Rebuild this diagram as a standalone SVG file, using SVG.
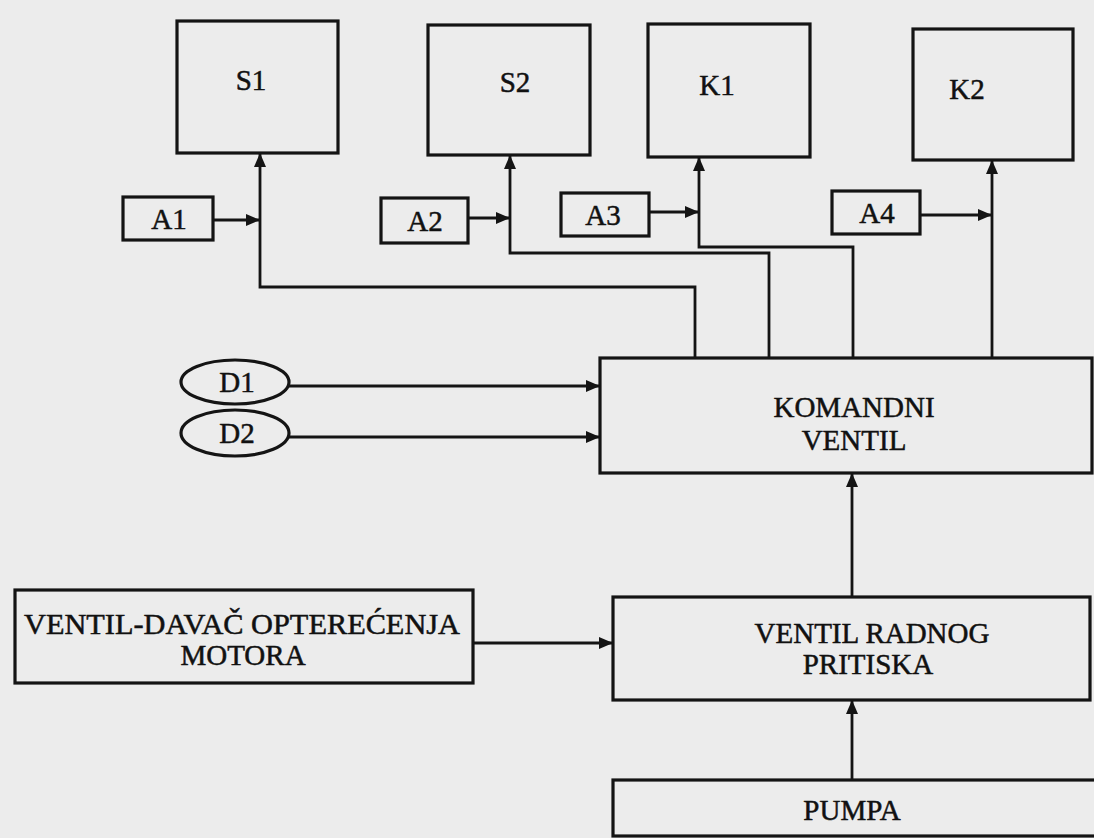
<svg xmlns="http://www.w3.org/2000/svg" width="1094" height="838" viewBox="0 0 1094 838">
<style>
.box{fill:#ececec;stroke:#141414;stroke-width:3.2}
.lbl{font-family:"Liberation Serif","Times New Roman",serif;font-size:29px;fill:#111;stroke:#111;stroke-width:0.5;text-anchor:middle}
.con{fill:none;stroke:#141414;stroke-width:2.8}
</style>
<defs>
<marker id="ah" viewBox="0 0 14 12" refX="14" refY="6" markerWidth="14" markerHeight="12" markerUnits="userSpaceOnUse" orient="auto">
<path d="M0,0 L14,6 L0,12 Z" fill="#141414"/>
</marker>
</defs>
<rect x="0" y="0" width="1094" height="838" fill="#ececec"/>
<g id="S1"><rect class="box" x="177" y="21" width="161" height="132"/><text class="lbl" x="251" y="90">S1</text></g>
<g id="S2"><rect class="box" x="428" y="25" width="162" height="130"/><text class="lbl" x="515" y="92">S2</text></g>
<g id="K1"><rect class="box" x="648" y="24" width="162" height="133"/><text class="lbl" x="717" y="95">K1</text></g>
<g id="K2"><rect class="box" x="913" y="29" width="160" height="131"/><text class="lbl" x="967" y="99">K2</text></g>
<g id="A1"><rect class="box" x="123" y="197" width="90" height="43"/><text class="lbl" x="169" y="229">A1</text></g>
<g id="A2"><rect class="box" x="381" y="198" width="87" height="45"/><text class="lbl" x="425" y="231">A2</text></g>
<g id="A3"><rect class="box" x="561" y="193" width="88" height="43"/><text class="lbl" x="603" y="225">A3</text></g>
<g id="A4"><rect class="box" x="832" y="191" width="88" height="43"/><text class="lbl" x="877" y="223">A4</text></g>
<g id="D1"><ellipse class="box" cx="235" cy="382" rx="54" ry="22"/><text class="lbl" x="237" y="392" font-size="26">D1</text></g>
<g id="D2"><ellipse class="box" cx="235" cy="433" rx="54" ry="23"/><text class="lbl" x="237" y="443" font-size="26">D2</text></g>
<g id="komandni"><rect class="box" x="600" y="358" width="492" height="115"/><text class="lbl" x="854" y="417">KOMANDNI</text><text class="lbl" x="854" y="450">VENTIL</text></g>
<g id="davac"><rect class="box" x="15" y="590" width="458" height="93"/><text class="lbl" x="242" y="634" textLength="436" lengthAdjust="spacingAndGlyphs">VENTIL-DAVAČ OPTEREĆENJA</text><text class="lbl" x="243" y="665">MOTORA</text></g>
<g id="radnog"><rect class="box" x="613" y="597" width="477" height="103"/><text class="lbl" x="872" y="643">VENTIL RADNOG</text><text class="lbl" x="868" y="674">PRITISKA</text></g>
<g id="pumpa"><rect class="box" x="613" y="780" width="485" height="56"/><text class="lbl" x="852" y="820">PUMPA</text></g>
<g id="connectors">
<path class="con" d="M213,220 H260" marker-end="url(#ah)"/>
<path class="con" d="M695,358 V287 H260 V153" marker-end="url(#ah)"/>
<path class="con" d="M468,218 H510" marker-end="url(#ah)"/>
<path class="con" d="M769,358 V253 H510 V155" marker-end="url(#ah)"/>
<path class="con" d="M649,212 H699" marker-end="url(#ah)"/>
<path class="con" d="M853,358 V247 H699 V157" marker-end="url(#ah)"/>
<path class="con" d="M920,215 H992" marker-end="url(#ah)"/>
<path class="con" d="M992,358 V160" marker-end="url(#ah)"/>
<path class="con" d="M289,386 H600" marker-end="url(#ah)"/>
<path class="con" d="M289,437 H600" marker-end="url(#ah)"/>
<path class="con" d="M473,643 H613" marker-end="url(#ah)"/>
<path class="con" d="M852,597 V473" marker-end="url(#ah)"/>
<path class="con" d="M852,780 V700" marker-end="url(#ah)"/>
</g>
</svg>
